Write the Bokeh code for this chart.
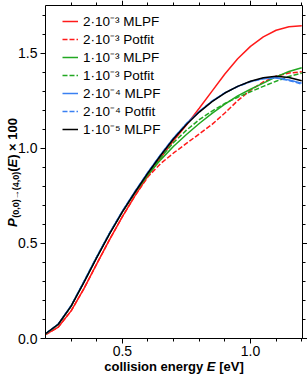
from math import pi
from bokeh.plotting import figure
from bokeh.models import (Range1d, LinearAxis, SingleIntervalTicker, Legend,
                          LegendItem, Label, CustomJSTickFormatter, PrintfTickFormatter)
from bokeh.embed import file_html
from bokeh.resources import INLINE

# ---------------- data ----------------
energy = [0.20, 0.25, 0.30, 0.35, 0.40, 0.45, 0.50, 0.55, 0.60, 0.65, 0.70,
          0.75, 0.80, 0.85, 0.90, 0.95, 1.00, 1.05, 1.10, 1.15, 1.20]

p_2e3_mlpf = [0.020, 0.060, 0.145, 0.262, 0.392, 0.520, 0.640, 0.752, 0.855, 0.950, 1.040,
              1.122, 1.210, 1.300, 1.390, 1.470, 1.535, 1.585, 1.620, 1.638, 1.643]
p_2e3_potfit = [0.020, 0.060, 0.145, 0.262, 0.392, 0.520, 0.640, 0.752, 0.850, 0.920, 0.975,
                1.025, 1.075, 1.125, 1.185, 1.250, 1.305, 1.348, 1.378, 1.395, 1.402]
p_1e3_mlpf = [0.024, 0.074, 0.170, 0.297, 0.428, 0.552, 0.665, 0.768, 0.860, 0.940, 1.010,
              1.072, 1.130, 1.183, 1.232, 1.275, 1.310, 1.342, 1.375, 1.403, 1.423]
p_1e3_potfit = [0.024, 0.074, 0.170, 0.297, 0.428, 0.552, 0.666, 0.770, 0.865, 0.952, 1.030,
                1.095, 1.150, 1.195, 1.235, 1.268, 1.297, 1.325, 1.352, 1.377, 1.395]
p_2e4_mlpf = [0.025, 0.076, 0.172, 0.299, 0.429, 0.554, 0.669, 0.774, 0.874, 0.967, 1.054,
              1.129, 1.193, 1.247, 1.291, 1.325, 1.351, 1.367, 1.371, 1.359, 1.342]
p_2e4_potfit = [0.025, 0.076, 0.172, 0.299, 0.429, 0.554, 0.669, 0.774, 0.874, 0.967, 1.054,
                1.129, 1.193, 1.247, 1.291, 1.324, 1.349, 1.365, 1.369, 1.356, 1.337]
p_1e5_mlpf = [0.025, 0.075, 0.170, 0.295, 0.425, 0.550, 0.665, 0.770, 0.870, 0.963, 1.050,
              1.125, 1.190, 1.245, 1.290, 1.325, 1.352, 1.370, 1.378, 1.372, 1.355]

legend_labels = ["2·10⁻³ MLPF", "2·10⁻³ Potfit", "1·10⁻³ MLPF", "1·10⁻³ Potfit",
                 "2·10⁻⁴ MLPF", "2·10⁻⁴ Potfit", "1·10⁻⁵ MLPF"]

# ---------------- styling / layout ----------------
FONT = "Liberation Sans"
RED = "#ff1a1a"
GREEN = "#22a822"
BLUE = "#3a80f2"
BLACK = "#000000"

X0, X1 = 0.2, 1.203
Y0, Y1 = 0.0, 1.75

W, H = 307, 375
BOX_L, BOX_R, BOX_T, BOX_B = 45, 302, 5, 338   # plot box inside the canvas (px)

sx = (X1 - X0) / (BOX_R - BOX_L)
sy = (Y1 - Y0) / (BOX_B - BOX_T)
x_range = Range1d(X0 - BOX_L * sx, X1 + (W - BOX_R) * sx)
y_range = Range1d(Y0 - (H - BOX_B) * sy, Y1 + BOX_T * sy)

p = figure(width=W, height=H, output_backend="svg", toolbar_location=None,
           x_range=x_range, y_range=y_range,
           x_axis_location=None, y_axis_location=None,
           min_border=0)
p.grid.grid_line_color = None
p.outline_line_color = None
p.background_fill_color = "white"
p.border_fill_color = "white"


def make_axis(with_labels, loc, bounds, standoff=3):
    ax = LinearAxis(ticker=SingleIntervalTicker(interval=0.5, num_minor_ticks=5),
                    fixed_location=loc, bounds=bounds)
    ax.axis_line_color = "black"
    ax.axis_line_width = 1
    ax.major_tick_line_color = "black"
    ax.minor_tick_line_color = "black"
    ax.major_tick_in = 0
    ax.major_tick_out = 5
    ax.minor_tick_in = 0
    ax.minor_tick_out = 3
    if with_labels:
        ax.formatter = PrintfTickFormatter(format="%.1f")
        ax.major_label_text_font = FONT
        ax.major_label_text_font_size = "14px"
        ax.major_label_text_color = "black"
        ax.major_label_standoff = standoff
    else:
        ax.formatter = CustomJSTickFormatter(code="return ''")
        ax.major_label_text_font_size = "0px"
        ax.major_label_standoff = 0
    return ax


p.add_layout(make_axis(True, Y0, (X0, X1), 2), "below")
p.add_layout(make_axis(True, X0, (Y0, Y1), 3), "left")
p.add_layout(make_axis(False, Y1, (X0, X1)), "above")
p.add_layout(make_axis(False, X1, (Y0, Y1)), "right")

LW = 1.5
series = [
    (p_2e3_mlpf, RED, "solid"),
    (p_2e3_potfit, RED, "5 2"),
    (p_1e3_mlpf, GREEN, "solid"),
    (p_1e3_potfit, GREEN, "5 2"),
    (p_2e4_mlpf, BLUE, "solid"),
    (p_2e4_potfit, BLUE, "5 2"),
    (p_1e5_mlpf, BLACK, "solid"),
]
items = []
for (vals, col, dash), lab_text in zip(series, legend_labels):
    r = p.line(energy, vals, line_color=col, line_width=LW, line_dash=dash)
    items.append(LegendItem(label=lab_text, renderers=[r]))

N = len(items)
ROW = 16
legend = Legend(items=items, location=(BOX_L + 17, H - BOX_T - 21 - ROW * N))
legend.label_text_font = FONT
legend.label_text_font_size = "13.5px"
legend.label_text_color = "black"
legend.glyph_width = 16
legend.glyph_height = ROW
legend.label_height = ROW
legend.label_standoff = 5
legend.spacing = 0
legend.padding = 0
legend.margin = 0
legend.background_fill_alpha = 0
legend.border_line_alpha = 0
p.add_layout(legend)


# ---------------- axis titles built from text pieces ----------------
def lab(text, x, y, xo, yo, size, style, angle=0.0):
    return Label(x=x, y=y, x_units="data", y_units="data", x_offset=xo, y_offset=yo,
                 text=text, text_font=FONT, text_font_size=size, text_font_style=style,
                 text_color="black", text_align="left", text_baseline="alphabetic",
                 angle=angle)


ymid = (Y0 + Y1) / 2
xmid = (X0 + X1) / 2

# y title: P_(0,0)->(4,0)(E) x 100, rotated
YB = -33
p.add_layout(lab("P", X0, ymid, YB, -55, "13px", "bold italic", pi / 2))
p.add_layout(lab("(0,0)→(4,0)", X0, ymid, YB + 3, -45.8, "9px", "bold", pi / 2))
p.add_layout(lab("(", X0, ymid, YB, 0.2, "13px", "bold", pi / 2))
p.add_layout(lab("E", X0, ymid, YB, 4.5, "13px", "bold italic", pi / 2))
p.add_layout(lab(")", X0, ymid, YB, 13.2, "13px", "bold", pi / 2))
p.add_layout(lab("× 100", X0, ymid, YB, 21.1, "13px", "bold", pi / 2))

# x title: collision energy E [eV]
XB = -28
p.add_layout(lab("collision energy", xmid, Y0, -69.75, XB, "13px", "bold"))
p.add_layout(lab("E", xmid, Y0, 32.85, XB, "13px", "bold italic"))
p.add_layout(lab("[eV]", xmid, Y0, 45.15, XB, "13px", "bold"))

open("out.html", "w").write(file_html(p, INLINE))
